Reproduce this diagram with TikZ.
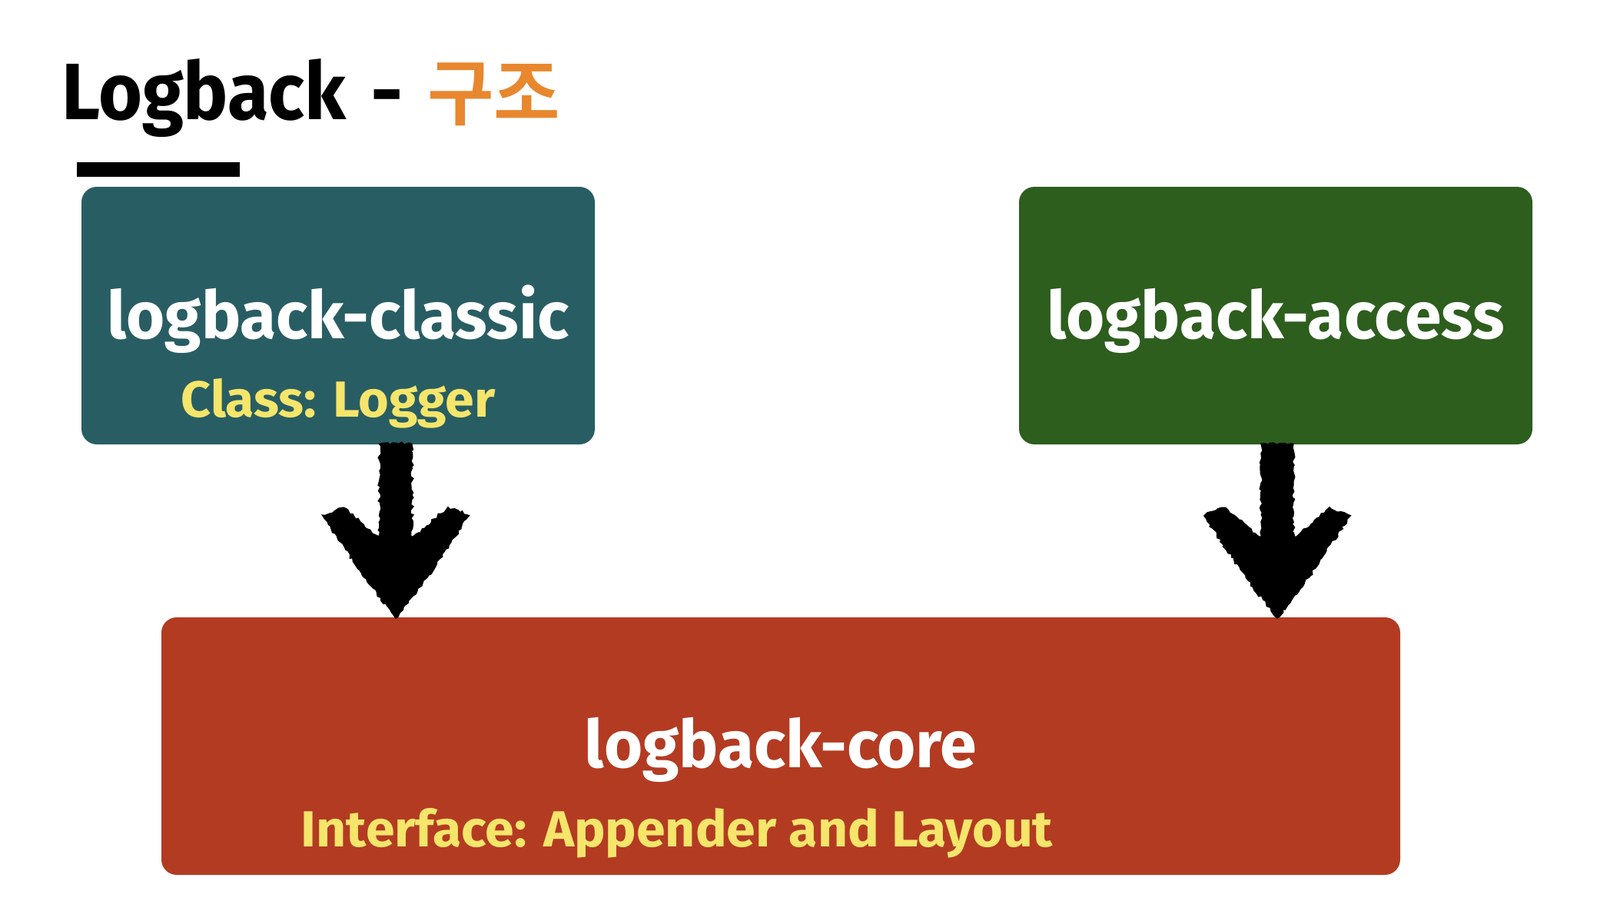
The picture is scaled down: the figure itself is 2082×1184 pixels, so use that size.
\documentclass[tikz,border=0pt]{standalone}
\usepackage{fontspec}
\setmainfont{Fira Sans}[BoldFont={* Bold}]
\newfontfamily\krfont{Noto Sans CJK KR}[BoldFont={* Bold}]
\usetikzlibrary{decorations.pathmorphing}
\definecolor{teal1}{HTML}{285E63}
\definecolor{green1}{HTML}{2D5E1E}
\definecolor{core1}{HTML}{B33B22}
\definecolor{yel1}{HTML}{F5E56B}
\definecolor{org1}{HTML}{E8872E}
\tikzset{
  box/.style={rounded corners=20pt, inner sep=0pt},
  mainlbl/.style={text=white, font=\bfseries\fontsize{86}{90}\selectfont, inner sep=0pt},
  sublbl/.style={text=yel1, font=\bfseries\fontsize{66}{70}\selectfont, inner sep=0pt},
  sketch/.style={fill=black, draw=black, line width=3pt, decorate, decoration={random steps, segment length=4pt, amplitude=2pt}},
}
\begin{document}
\begin{tikzpicture}[x=1pt,y=-1pt]
\useasboundingbox (0,0) rectangle (2082,1184);
% title
\node[anchor=base west, inner sep=0pt] (title) at (80,155) {\scalebox{0.94}[1]{\bfseries\fontsize{104}{110}\selectfont Logback}};
\node[anchor=base west, inner sep=0pt] (dash) at (482,155) {\bfseries\fontsize{104}{110}\selectfont -};
\node[anchor=base west, inner sep=0pt] (kr) at (556,155) {\krfont\bfseries\fontsize{94}{100}\selectfont\color{org1}구조};
\fill (100,211) rectangle (312,230);
% boxes
\fill[teal1, box] (106,243) rectangle (774,578);
\fill[green1, box] (1326,243) rectangle (1994,578);
\fill[core1, box] (210,803) rectangle (1822,1138);
\coordinate (classicbot) at (515,578);
\coordinate (accessbot) at (1662,578);
% labels
\node[mainlbl] (classic) at (440,415) {logback-classic};
\node[sublbl] (classicsub) at (440,525) {\scalebox{1.03}[1]{Class: Logger}};
\node[mainlbl] (access) at (1660,417) {logback-access};
\node[mainlbl] (core) at (1016,975) {logback-core};
\node[sublbl] (coresub) at (881,1084) {\scalebox{1.03}[1]{Interface: Appender and Layout}};
% arrows
\foreach \p in {classicbot, accessbot} {
  \path[sketch] (\p) ++(-20,0) -- ++(0,125) -- ++(-48,-42) -- ++(-26,10) -- ++(54,80) -- ++(40,52) -- ++(40,-52) -- ++(54,-80) -- ++(-26,-10) -- ++(-48,42) -- ++(0,-125) -- cycle;
}
\end{tikzpicture}
\end{document}
